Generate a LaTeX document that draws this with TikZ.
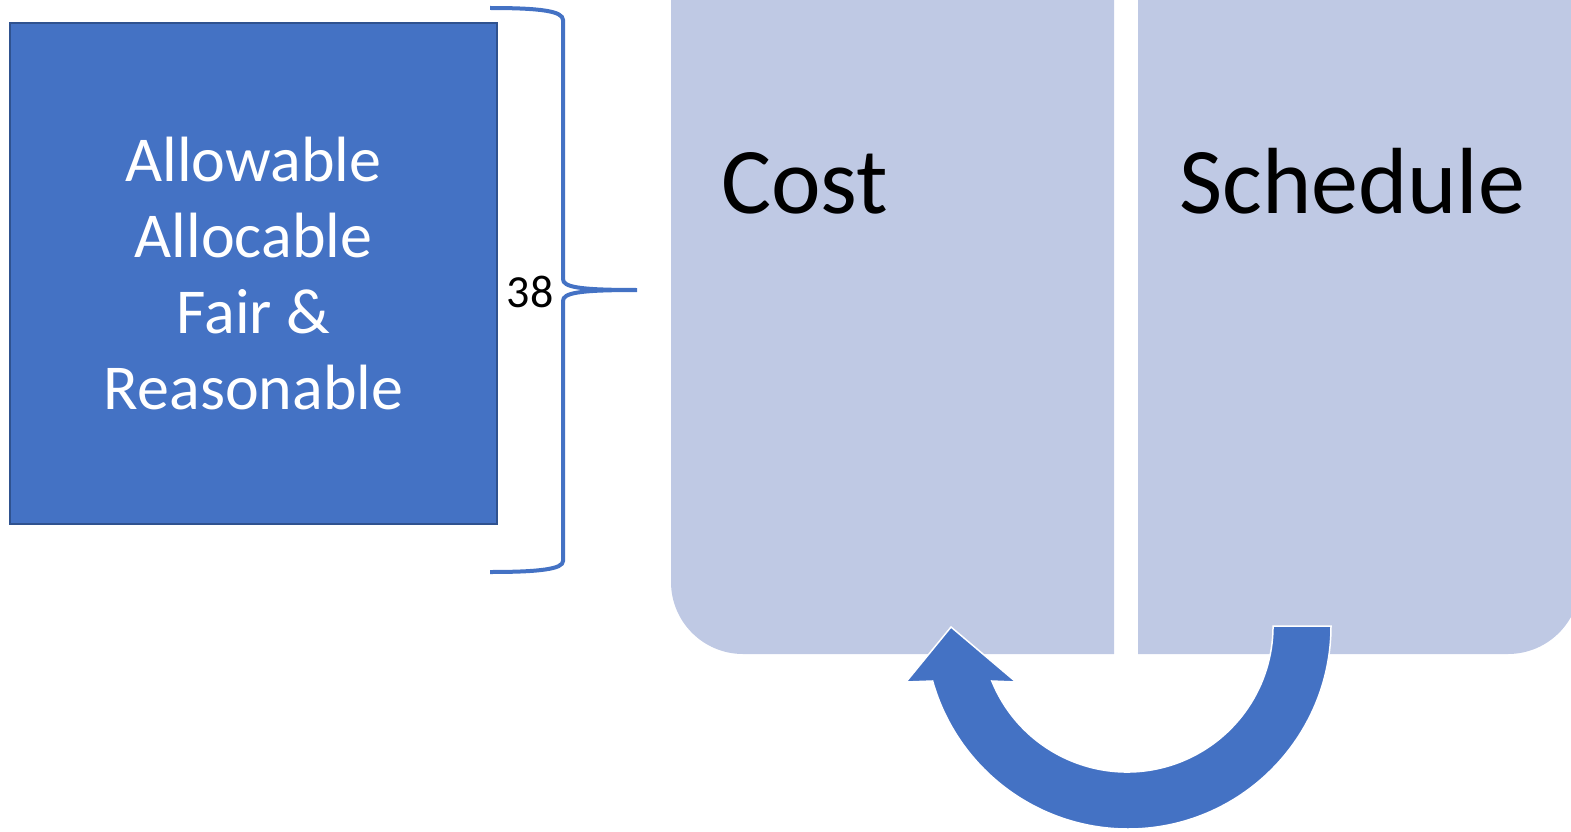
\documentclass[tikz,border=0pt]{standalone}
\usepackage{fontspec}
\setmainfont{Carlito}
\definecolor{accent}{RGB}{68,114,196}
\definecolor{accentdark}{RGB}{47,82,143}
\definecolor{panelc}{RGB}{191,201,228}
\tikzset{
  panel/.style={fill=panelc},
  bigbox/.style={fill=accent, draw=accentdark, line width=2pt, inner sep=0pt},
  bracestyle/.style={draw=accent, line width=4pt, line cap=butt},
  cyclearrow/.style={fill=accent, draw=white, line width=1.5pt, line join=miter},
  paneltext/.style={font=\fontsize{94}{100}\selectfont, text=black, inner sep=0pt, anchor=base west}
}
\begin{document}
\begin{tikzpicture}[x=1pt,y=-1pt]
\useasboundingbox (0,0) rectangle (1571,832);
\clip (0,0) rectangle (1571,832);
% panels
\fill[panel] (671,-10) -- (671,582) arc[start angle=180, end angle=90, radius=72] -- (1114,654) -- (1114,-10) -- cycle;
\fill[panel] (1138,-10) -- (1138,654) -- (1508,654) arc[start angle=90, end angle=0, radius=72] -- (1580,-10) -- cycle;
\node[paneltext] (cost) at (721,213) {Cost};
\node[paneltext] (sched) at (1179,213) {Schedule};
% blue box
\node[bigbox, minimum width=487pt, minimum height=501pt, align=center, text=white,
      font=\fontsize{64}{76}\selectfont] (box) at (253.5,273.5)
  {Allowable\\Allocable\\Fair \&\\Reasonable};
% brace
\coordinate (btop) at (490,8);
\coordinate (bbot) at (490,572);
\coordinate (btip) at (637,290);
\draw[bracestyle] (btop) .. controls (540,8) and (563,11) .. (563,20) -- (563,279)
  .. controls (563,287) and (578,290) .. (btip)
  .. controls (578,290) and (563,293) .. (563,301) -- (563,561)
  .. controls (563,569) and (540,572) .. (bbot);
\node[font=\fontsize{46}{52}\selectfont, inner sep=0pt, anchor=base] (num) at (530,307) {38};
% curved arrow
\filldraw[cyclearrow] (1331,626) arc[start angle=0, end angle=164.28, radius=203]
  -- (906,682) -- (951,627) -- (1016,682) -- (991.8,681)
  arc[start angle=157.87, end angle=0, radius=146] -- cycle;
\end{tikzpicture}
\end{document}
